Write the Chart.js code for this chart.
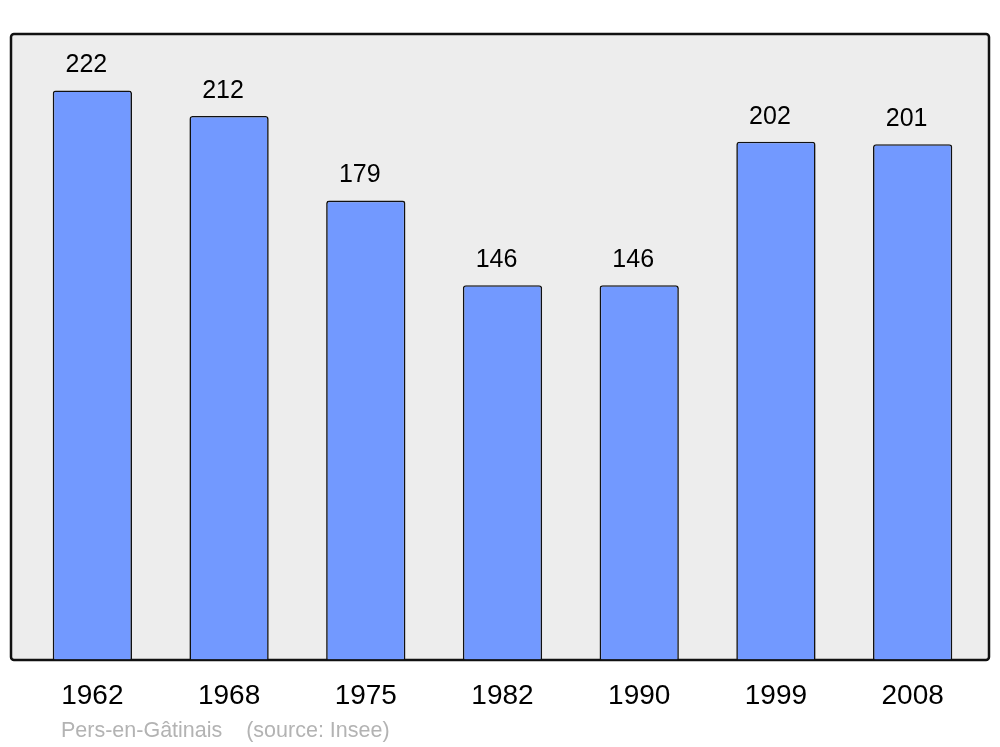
<!DOCTYPE html>
<html>
<head>
<meta charset="utf-8">
<script src="https://cdn.jsdelivr.net/npm/chart.js@4/dist/chart.umd.min.js"></script>
<style>
  html, body { margin: 0; padding: 0; background: #fff; }
  #wrap { position: relative; width: 1000px; height: 747px; }
  #source { position: absolute; left: 61px; top: 718px; font: 21.5px "Liberation Sans", Arial, sans-serif; color: #b3b3b3; white-space: pre; }
</style>
</head>
<body>
<div id="wrap">
  <canvas id="thisChart" width="1000" height="747"></canvas>
  <div id="source">Pers-en-Gâtinais    (source: Insee)</div>
</div>
<script>
const years = ["1962", "1968", "1975", "1982", "1990", "1999", "2008"]
const population = [222, 212, 179, 146, 146, 202, 201]
const yMax = 244

// grey box with dark frame behind the bars
const frame = {
  id: 'frame',
  beforeDraw(chart) {
    const ctx = chart.ctx
    ctx.save()
    ctx.beginPath()
    ctx.roundRect(11, 34, 978, 626, 3)
    ctx.fillStyle = '#ededed'
    ctx.fill()
    ctx.lineWidth = 2.5
    ctx.strokeStyle = '#111'
    ctx.stroke()
    ctx.restore()
  }
}

// numbers over the bars
const valueLabels = {
  id: 'valueLabels',
  afterDatasetsDraw(chart) {
    const ctx = chart.ctx
    const meta = chart.getDatasetMeta(0)
    ctx.save()
    ctx.font = '25px "Liberation Sans", Arial, sans-serif'
    ctx.fillStyle = '#000'
    ctx.textAlign = 'center'
    ctx.textBaseline = 'middle'
    meta.data.forEach((bar, i) => {
      ctx.fillText(population[i], bar.x - 6, bar.y - 25)
    })
    ctx.restore()
  }
}

const data = {
  labels: years,
  datasets: [{
    label: "Population",
    data: population,
    backgroundColor: "#7299ff",
    borderColor: "#111",
    borderWidth: 1.6,
    borderRadius: { topLeft: 3, topRight: 3 },
    borderSkipped: 'bottom',
    categoryPercentage: 1,
    barPercentage: 0.58,
  }],
}

const config = {
  type: "bar",
  data,
  options: {
    responsive: false,
    animation: false,
    layout: { padding: { left: 24, right: 19, top: 34, bottom: 14 } },
    plugins: {
      legend: { display: false },
      tooltip: { enabled: false },
    },
    scales: {
      x: {
        grid: { display: false, drawTicks: false },
        border: { display: false },
        ticks: {
          color: '#000',
          padding: 20,
          font: { family: '"Liberation Sans", Arial, sans-serif', size: 28 },
        },
      },
      y: {
        display: false,
        min: 0,
        max: yMax,
      },
    },
  },
  plugins: [frame, valueLabels],
}

const barChart = new Chart(document.getElementById("thisChart").getContext('2d'), config)
</script>
</body>
</html>
